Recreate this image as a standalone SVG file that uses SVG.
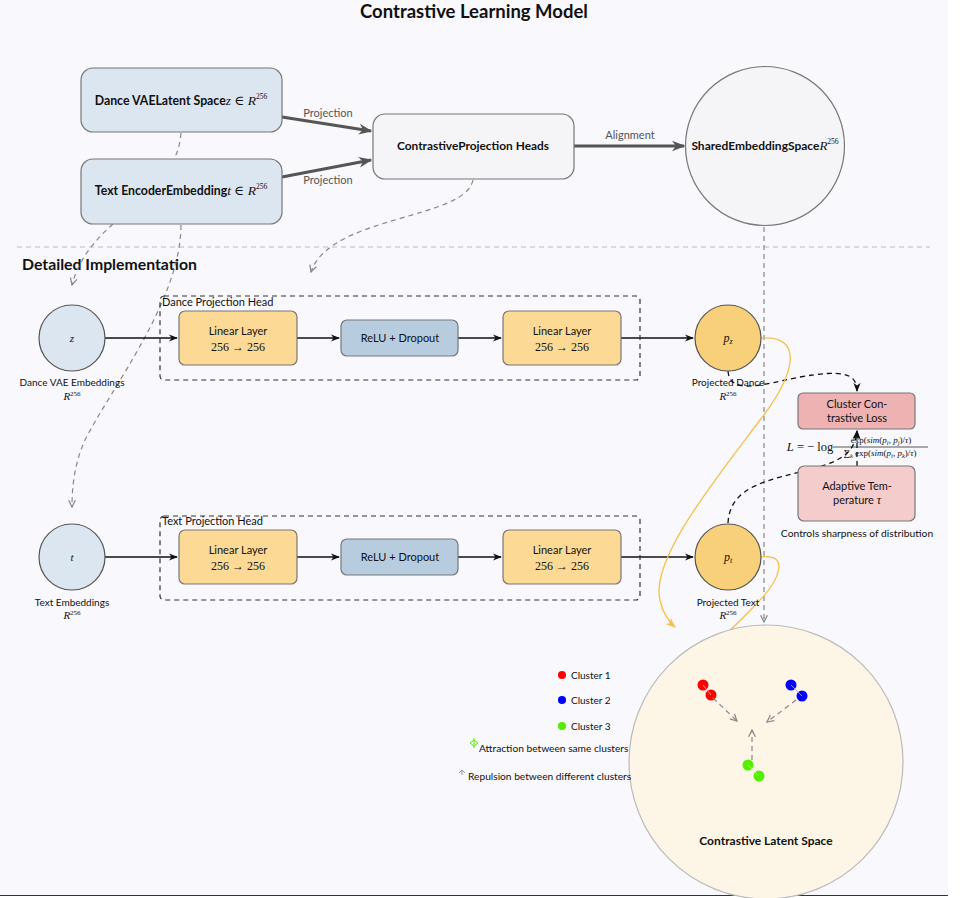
<svg xmlns="http://www.w3.org/2000/svg" width="961" height="898" viewBox="0 0 961 898">
<defs>
<style>
.t{font-family:Lato,"Open Sans","DejaVu Sans",sans-serif;fill:#111}
.b{font-weight:bold}
.m{font-family:"Liberation Serif","DejaVu Serif",serif;font-style:italic;fill:#111}
.mr{font-family:"Liberation Serif","DejaVu Serif",serif;fill:#111}
.box{stroke:#777;stroke-width:1.2}
.blk{stroke:#111;stroke-width:1.3;fill:none}
.gd{stroke:#888;stroke-width:1.2;fill:none;stroke-dasharray:5 4}
.kd{stroke:#111;stroke-width:1.3;fill:none;stroke-dasharray:5 4}
.thick{stroke:#555;stroke-width:3;fill:none}
.or{stroke:#f5c04a;stroke-width:1.3;fill:none}
</style>
<marker id="ab" viewBox="0 0 10 10" refX="9" refY="5" markerWidth="7" markerHeight="7" orient="auto"><path d="M0,1 L10,5 L0,9 L3,5 Z" fill="#111"/></marker>
<marker id="ag" viewBox="0 0 10 10" refX="9" refY="5" markerWidth="7" markerHeight="7" orient="auto"><path d="M1,1 L9,5 L1,9" fill="none" stroke="#888" stroke-width="1.5"/></marker>
<marker id="at" viewBox="0 0 10 10" refX="9" refY="5" markerWidth="4.5" markerHeight="4.5" orient="auto"><path d="M0,1 L10,5 L0,9 L3,5 Z" fill="#555"/></marker>
<marker id="ao" viewBox="0 0 10 10" refX="9" refY="5" markerWidth="8" markerHeight="8" orient="auto"><path d="M0,1 L10,5 L0,9 L3,5 Z" fill="#f5c04a"/></marker>
</defs>
<rect x="0" y="0" width="961" height="898" fill="#fff"/>
<rect x="0" y="0" width="948" height="895" fill="#f8f8fd"/>
<line x1="0" y1="895.5" x2="948" y2="895.5" stroke="#333" stroke-width="1"/>
<text class="t b" x="474" y="18" font-size="18.5" text-anchor="middle">Contrastive Learning Model</text>
<line x1="17" y1="247" x2="930" y2="247" stroke="#bbb" stroke-width="1.2" stroke-dasharray="5 4"/>
<text class="t b" x="22" y="270" font-size="15.8">Detailed Implementation</text>

<g id="connectors">
<path class="thick" d="M282,117 L371,131" marker-end="url(#at)"/>
<path class="thick" d="M282,177 L371,160" marker-end="url(#at)"/>
<path class="thick" d="M574,146 L684,146" marker-end="url(#at)"/>
<text class="t" x="328" y="117" font-size="11" text-anchor="middle" style="fill:#555">Projection</text>
<text class="t" x="328" y="184" font-size="11" text-anchor="middle" style="fill:#555">Projection</text>
<text class="t" x="630" y="139" font-size="11" text-anchor="middle" style="fill:#555">Alignment</text>
<path class="gd" d="M181,133 C176,200 90,215 72,285" marker-end="url(#ag)"/>
<path class="gd" d="M181,225 C181,300 110,390 85,440 C75,462 72,485 72,507" marker-end="url(#ag)"/>
<path class="gd" d="M473,180 C465,220 330,215 311,272" marker-end="url(#ag)"/>
<path class="gd" d="M764,227 L764,622" marker-end="url(#ag)"/>
<path class="blk" d="M105,338 L177,338" marker-end="url(#ab)"/>
<path class="blk" d="M297,338 L339,338" marker-end="url(#ab)"/>
<path class="blk" d="M458,338 L501,338" marker-end="url(#ab)"/>
<path class="blk" d="M621,338 L693,338" marker-end="url(#ab)"/>
<path class="blk" d="M105,557 L177,557" marker-end="url(#ab)"/>
<path class="blk" d="M297,557 L339,557" marker-end="url(#ab)"/>
<path class="blk" d="M458,557 L501,557" marker-end="url(#ab)"/>
<path class="blk" d="M621,557 L693,557" marker-end="url(#ab)"/>
<path class="kd" d="M728,371 C730,395 760,385 800,377 C840,370 857,372 857,391" marker-end="url(#ab)"/>
<path class="kd" d="M728,523 C730,485 770,480 815,468 C845,460 855,450 857,431" marker-end="url(#ab)"/>
<path class="kd" d="M857,466 L857,431" marker-end="url(#ab)"/>
<path class="or" d="M761,338 C805,335 795,375 760,420 C715,480 650,560 660,600 C663,614 668,621 675,627" marker-end="url(#ao)"/>
<path class="or" d="M761,557 C790,553 780,580 758,602 C715,650 655,690 655,710 C655,720 663,722 674,722" marker-end="url(#ao)"/>
</g>

<g id="dance_vae">
<rect class="box" x="81" y="68" width="201" height="64" rx="12" fill="#dce6f0"/>
<text x="181" y="105" font-size="12.3" text-anchor="middle"><tspan class="t b">Dance VAELatent Space</tspan><tspan class="m" font-size="13.5">z</tspan><tspan class="mr" font-size="13.5"> ∈ </tspan><tspan class="m" font-size="13.5">R</tspan><tspan class="mr" font-size="7.5" dy="-6">256</tspan></text>
</g>
<g id="text_encoder">
<rect class="box" x="81" y="159" width="201" height="65" rx="12" fill="#dce6f0"/>
<text x="181" y="195" font-size="12.3" text-anchor="middle"><tspan class="t b">Text EncoderEmbedding</tspan><tspan class="m" font-size="13.5">t</tspan><tspan class="mr" font-size="13.5"> ∈ </tspan><tspan class="m" font-size="13.5">R</tspan><tspan class="mr" font-size="7.5" dy="-6">256</tspan></text>
</g>
<g id="proj_heads">
<rect class="box" x="373" y="114" width="201" height="65" rx="12" fill="#f5f5f8"/>
<text class="t b" x="473" y="150" font-size="11.9" text-anchor="middle">ContrastiveProjection Heads</text>
</g>
<g id="shared_space">
<circle cx="765" cy="146" r="79.5" fill="#f5f5f8" stroke="#777" stroke-width="1.2"/>
<text x="765" y="150" font-size="12" text-anchor="middle"><tspan class="t b">SharedEmbeddingSpace</tspan><tspan class="m" font-size="13">R</tspan><tspan class="mr" font-size="7.5" dy="-6">256</tspan></text>
</g>

<g id="dance_head">
<rect x="160" y="296" width="480" height="84" rx="4" fill="none" stroke="#333" stroke-width="1.2" stroke-dasharray="5 4"/>
<text class="t" x="162" y="306" font-size="11">Dance Projection Head</text>
</g>
<g id="z_node">
<circle cx="72" cy="338" r="33" fill="#dce6f0" stroke="#555" stroke-width="1.2"/>
<text class="m" x="72" y="342" font-size="11" text-anchor="middle">z</text>
<text class="t" x="72" y="386" font-size="10" text-anchor="middle">Dance VAE Embeddings</text>
<text x="72" y="400" text-anchor="middle"><tspan class="m" font-size="11">R</tspan><tspan class="mr" font-size="7" dy="-4">256</tspan></text>
</g>
<g id="d_lin1">
<rect class="box" x="179" y="311" width="118" height="54" rx="6" fill="#fcd994"/>
<text class="t" x="238" y="335" font-size="11" text-anchor="middle">Linear Layer</text>
<text class="mr" x="238" y="351" font-size="12" text-anchor="middle">256 → 256</text>
</g>
<g id="d_relu">
<rect class="box" x="341" y="320" width="117" height="36" rx="6" fill="#b8cce0"/>
<text class="t" x="400" y="342" font-size="11" text-anchor="middle">ReLU + Dropout</text>
</g>
<g id="d_lin2">
<rect class="box" x="503" y="311" width="118" height="54" rx="6" fill="#fcd994"/>
<text class="t" x="562" y="335" font-size="11" text-anchor="middle">Linear Layer</text>
<text class="mr" x="562" y="351" font-size="12" text-anchor="middle">256 → 256</text>
</g>
<g id="pz_node">
<circle cx="728" cy="338" r="33" fill="#f9d07a" stroke="#555" stroke-width="1.2"/>
<text x="728" y="342" text-anchor="middle"><tspan class="m" font-size="12">p</tspan><tspan class="m" font-size="8" dy="2">z</tspan></text>
<text class="t" x="728" y="386" font-size="10" text-anchor="middle">Projected Dance</text>
<text x="728" y="400" text-anchor="middle"><tspan class="m" font-size="11">R</tspan><tspan class="mr" font-size="7" dy="-4">256</tspan></text>
</g>

<g id="text_head">
<rect x="160" y="516" width="480" height="84" rx="4" fill="none" stroke="#333" stroke-width="1.2" stroke-dasharray="5 4"/>
<text class="t" x="162" y="525" font-size="11">Text Projection Head</text>
</g>
<g id="t_node">
<circle cx="72" cy="557" r="33" fill="#dce6f0" stroke="#555" stroke-width="1.2"/>
<text class="m" x="72" y="561" font-size="11" text-anchor="middle">t</text>
<text class="t" x="72" y="606" font-size="10" text-anchor="middle">Text Embeddings</text>
<text x="72" y="619" text-anchor="middle"><tspan class="m" font-size="11">R</tspan><tspan class="mr" font-size="7" dy="-4">256</tspan></text>
</g>
<g id="t_lin1">
<rect class="box" x="179" y="530" width="118" height="54" rx="6" fill="#fcd994"/>
<text class="t" x="238" y="554" font-size="11" text-anchor="middle">Linear Layer</text>
<text class="mr" x="238" y="570" font-size="12" text-anchor="middle">256 → 256</text>
</g>
<g id="t_relu">
<rect class="box" x="341" y="539" width="117" height="36" rx="6" fill="#b8cce0"/>
<text class="t" x="400" y="561" font-size="11" text-anchor="middle">ReLU + Dropout</text>
</g>
<g id="t_lin2">
<rect class="box" x="503" y="530" width="118" height="54" rx="6" fill="#fcd994"/>
<text class="t" x="562" y="554" font-size="11" text-anchor="middle">Linear Layer</text>
<text class="mr" x="562" y="570" font-size="12" text-anchor="middle">256 → 256</text>
</g>
<g id="pt_node">
<circle cx="728" cy="557" r="33" fill="#f9d07a" stroke="#555" stroke-width="1.2"/>
<text x="728" y="561" text-anchor="middle"><tspan class="m" font-size="12">p</tspan><tspan class="m" font-size="8" dy="2">t</tspan></text>
<text class="t" x="728" y="606" font-size="10" text-anchor="middle">Projected Text</text>
<text x="728" y="619" text-anchor="middle"><tspan class="m" font-size="11">R</tspan><tspan class="mr" font-size="7" dy="-4">256</tspan></text>
</g>

<g id="loss">
<rect class="box" x="798" y="393" width="117" height="36" rx="5" fill="#eeb2b2"/>
<text class="t" x="857" y="408" font-size="11" text-anchor="middle">Cluster Con-</text>
<text class="t" x="857" y="422" font-size="11" text-anchor="middle">trastive Loss</text>
</g>
<g id="formula">
<text x="810" y="451" text-anchor="middle" font-size="12.5"><tspan class="m">L</tspan><tspan class="mr"> = − log</tspan></text>
<text class="mr" x="881" y="443" font-size="9" text-anchor="middle">exp(<tspan class="m">sim</tspan>(<tspan class="m">p<tspan font-size="6.5" dy="1.5">i</tspan></tspan><tspan dy="-1.5">, </tspan><tspan class="m">p<tspan font-size="6.5" dy="1.5">j</tspan></tspan><tspan dy="-1.5">)/</tspan><tspan class="m">τ</tspan>)</text>
<line x1="833" y1="447" x2="928" y2="447" stroke="#111" stroke-width="0.7"/>
<text class="mr" x="880" y="456" font-size="9" text-anchor="middle">∑<tspan class="m" font-size="6.5" dy="1.5">k</tspan><tspan dy="-1.5"> exp(</tspan><tspan class="m">sim</tspan>(<tspan class="m">p<tspan font-size="6.5" dy="1.5">i</tspan></tspan><tspan dy="-1.5">, </tspan><tspan class="m">p<tspan font-size="6.5" dy="1.5">k</tspan></tspan><tspan dy="-1.5">)/</tspan><tspan class="m">τ</tspan>)</text>
</g>
<g id="temperature">
<rect class="box" x="798" y="466" width="117" height="55" rx="6" fill="#f5cccc"/>
<text class="t" x="857" y="490" font-size="11" text-anchor="middle">Adaptive Tem-</text>
<text x="857" y="504" font-size="11" text-anchor="middle"><tspan class="t">perature </tspan><tspan class="m" font-size="12">τ</tspan></text>
<text class="t" x="857" y="537" font-size="10.3" text-anchor="middle">Controls sharpness of distribution</text>
</g>

<g id="latent_space">
<circle cx="766" cy="762" r="137" fill="#fdf5e6" stroke="#bbb" stroke-width="1.2"/>
<circle cx="703" cy="685" r="5.5" fill="#f00"/>
<circle cx="711" cy="695" r="5.5" fill="#f00"/>
<circle cx="791" cy="685" r="5.5" fill="#00f"/>
<circle cx="802" cy="696" r="5.5" fill="#00f"/>
<circle cx="748" cy="765" r="5.5" fill="#55ee00"/>
<circle cx="759" cy="776" r="5.5" fill="#55ee00"/>
<line x1="703" y1="685" x2="711" y2="695" stroke="#ffb0b0" stroke-width="0.8"/>
<line x1="791" y1="685" x2="802" y2="696" stroke="#b0b0ff" stroke-width="0.8"/>
<line x1="748" y1="765" x2="759" y2="776" stroke="#c0ffa0" stroke-width="0.8"/>
<path class="gd" d="M713,698 L737,721" marker-end="url(#ag)" stroke-width="1"/>
<path class="gd" d="M796,700 L767,722" marker-end="url(#ag)" stroke-width="1"/>
<path class="gd" d="M752,760 L752,730" marker-end="url(#ag)" stroke-width="1"/>
<text class="t b" x="766" y="845" font-size="12" text-anchor="middle">Contrastive Latent Space</text>
</g>

<g id="legend">
<circle cx="562" cy="675" r="4" fill="#f00"/>
<text class="t" x="571" y="679" font-size="10">Cluster 1</text>
<circle cx="562" cy="700" r="4" fill="#00f"/>
<text class="t" x="571" y="704" font-size="10">Cluster 2</text>
<circle cx="562" cy="726" r="4" fill="#55ee00"/>
<text class="t" x="571" y="730" font-size="10">Cluster 3</text>
<path d="M470,743 L474,740 L478,743 L474,746 Z M474,738 L474,748" fill="none" stroke="#55ee00" stroke-width="1"/>
<text class="t" x="479" y="752" font-size="10.2">Attraction between same clusters</text>
<path d="M459,773 L462,770 L465,773 M462,770 L462,775" fill="none" stroke="#999" stroke-width="1"/>
<text class="t" x="468" y="780" font-size="10.2">Repulsion between different clusters</text>
</g>
</svg>
